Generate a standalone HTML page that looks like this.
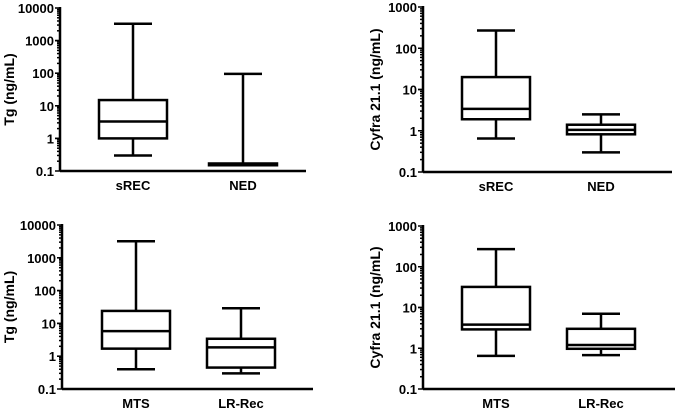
<!DOCTYPE html>
<html><head><meta charset="utf-8"><style>
html,body{margin:0;padding:0;background:#fff;width:675px;height:410px;overflow:hidden}
svg text{font-family:"Liberation Sans",Arial,sans-serif;font-weight:bold;fill:#000}
</style></head><body>
<svg id="c" width="675" height="410" xmlns="http://www.w3.org/2000/svg"></svg>
<script>
// Panel A: Tg sREC / NED
const catsA = ["sREC", "NED"];
const minA = [0.3, 0.15], q1A = [1, 0.15], medA = [3.3, 0.16], q3A = [15, 0.17], maxA = [3300, 95];
// Panel B: Cyfra sREC / NED
const catsB = ["sREC", "NED"];
const minB = [0.65, 0.3], q1B = [1.9, 0.82], medB = [3.4, 1.05], q3B = [20, 1.4], maxB = [270, 2.5];
// Panel C: Tg MTS / LR-Rec
const catsC = ["MTS", "LR-Rec"];
const minC = [0.4, 0.3], q1C = [1.7, 0.45], medC = [5.8, 1.85], q3C = [24, 3.4], maxC = [3200, 29];
// Panel D: Cyfra MTS / LR-Rec
const catsD = ["MTS", "LR-Rec"];
const minD = [0.65, 0.68], q1D = [2.9, 0.97], medD = [3.8, 1.2], q3D = [32, 3], maxD = [270, 7];
const ticksTg = ["0.1", "1", "10", "100", "1000", "10000"];
const ticksCy = ["0.1", "1", "10", "100", "1000"];

const svg = document.getElementById('c');
const NS = "http://www.w3.org/2000/svg";
function mk(tag, attrs, parent) {
  const e = document.createElementNS(NS, tag);
  for (const k in attrs) e.setAttribute(k, attrs[k]);
  (parent || svg).appendChild(e);
  return e;
}
function panel(name, cfg) {
  const g = mk('g', {});
  
  
  const decades = cfg.ticks.length - 1;
  const y = v => cfg.y0 - (Math.log10(v) + 1) / decades * (cfg.y0 - cfg.yTop);
  const L = {stroke: '#000', 'stroke-width': 2.5, fill: 'none'};
  const ax = mk('line', Object.assign({x1: cfg.ax, x2: cfg.ax, y1: cfg.yTop - 1, y2: cfg.y0}, L), g);
  
  
  const xa = mk('line', Object.assign({x1: cfg.ax, x2: cfg.xEnd, y1: cfg.y0, y2: cfg.y0}, L), g);
  
  
  for (let d = 0; d < decades; d++) {
    for (let m = 1; m <= 10; m++) {
      const v = Math.pow(10, d - 1) * m;
      const yy = y(v);
      mk('line', {x1: cfg.ax - (m === 1 || m === 10 ? 5 : 3), x2: cfg.ax, y1: yy, y2: yy, stroke: '#000', 'stroke-width': 1.5}, g);
    }
  }
  cfg.ticks.forEach((t, i) => {
    const tx = mk('text', {x: cfg.ax - 6, y: y(Math.pow(10, i - 1)) + 5, 'text-anchor': 'end', 'font-size': 13}, g);
    tx.textContent = t;
    
    
  });
  const ttl = mk('text', {x: 0, y: 0, 'text-anchor': 'middle', 'font-size': 14, transform: `translate(${cfg.titleX},${(cfg.y0 + cfg.yTop) / 2}) rotate(-90)`}, g);
  ttl.textContent = cfg.title;
  
  
  cfg.cats.forEach((c, i) => {
    const cx = cfg.cx[i], w = 34, cw = 19;
    const bg = mk('g', {}, g);
    
    
    mk('line', Object.assign({x1: cx, x2: cx, y1: y(cfg.mn[i]), y2: y(cfg.mx[i])}, L), bg);
    mk('line', Object.assign({x1: cx - cw, x2: cx + cw, y1: y(cfg.mn[i]), y2: y(cfg.mn[i])}, L), bg);
    mk('line', Object.assign({x1: cx - cw, x2: cx + cw, y1: y(cfg.mx[i]), y2: y(cfg.mx[i])}, L), bg);
    const top = y(cfg.q3[i]), bot = y(cfg.q1[i]);
    mk('rect', Object.assign({x: cx - w, y: top, width: 2 * w, height: Math.max(bot - top, 0.5)}, L, {fill: '#fff'}), bg);
    mk('line', Object.assign({x1: cx - w, x2: cx + w, y1: y(cfg.md[i]), y2: y(cfg.md[i])}, L), bg);
    const lb = mk('text', {x: cx, y: cfg.y0 + 19, 'text-anchor': 'middle', 'font-size': 13}, g);
    lb.textContent = c;
    
    
  });
}
panel('tg-recurrence-panel', {ax: 60, xEnd: 306, yTop: 8, y0: 171, ticks: ticksTg, title: 'Tg (ng/mL)', titleX: 14, cats: catsA, cx: [133, 243], mn: minA, q1: q1A, md: medA, q3: q3A, mx: maxA});
panel('cyfra-recurrence-panel', {ax: 423, xEnd: 672, yTop: 7, y0: 172, ticks: ticksCy, title: 'Cyfra 21.1 (ng/mL)', titleX: 380, cats: catsB, cx: [496, 601], mn: minB, q1: q1B, md: medB, q3: q3B, mx: maxB});
panel('tg-metastasis-panel', {ax: 62, xEnd: 313, yTop: 225, y0: 389, ticks: ticksTg, title: 'Tg (ng/mL)', titleX: 14, cats: catsC, cx: [136, 241], mn: minC, q1: q1C, md: medC, q3: q3C, mx: maxC});
panel('cyfra-metastasis-panel', {ax: 423, xEnd: 675, yTop: 226, y0: 389, ticks: ticksCy, title: 'Cyfra 21.1 (ng/mL)', titleX: 380, cats: catsD, cx: [496, 601], mn: minD, q1: q1D, md: medD, q3: q3D, mx: maxD});
</script>
</body></html>
